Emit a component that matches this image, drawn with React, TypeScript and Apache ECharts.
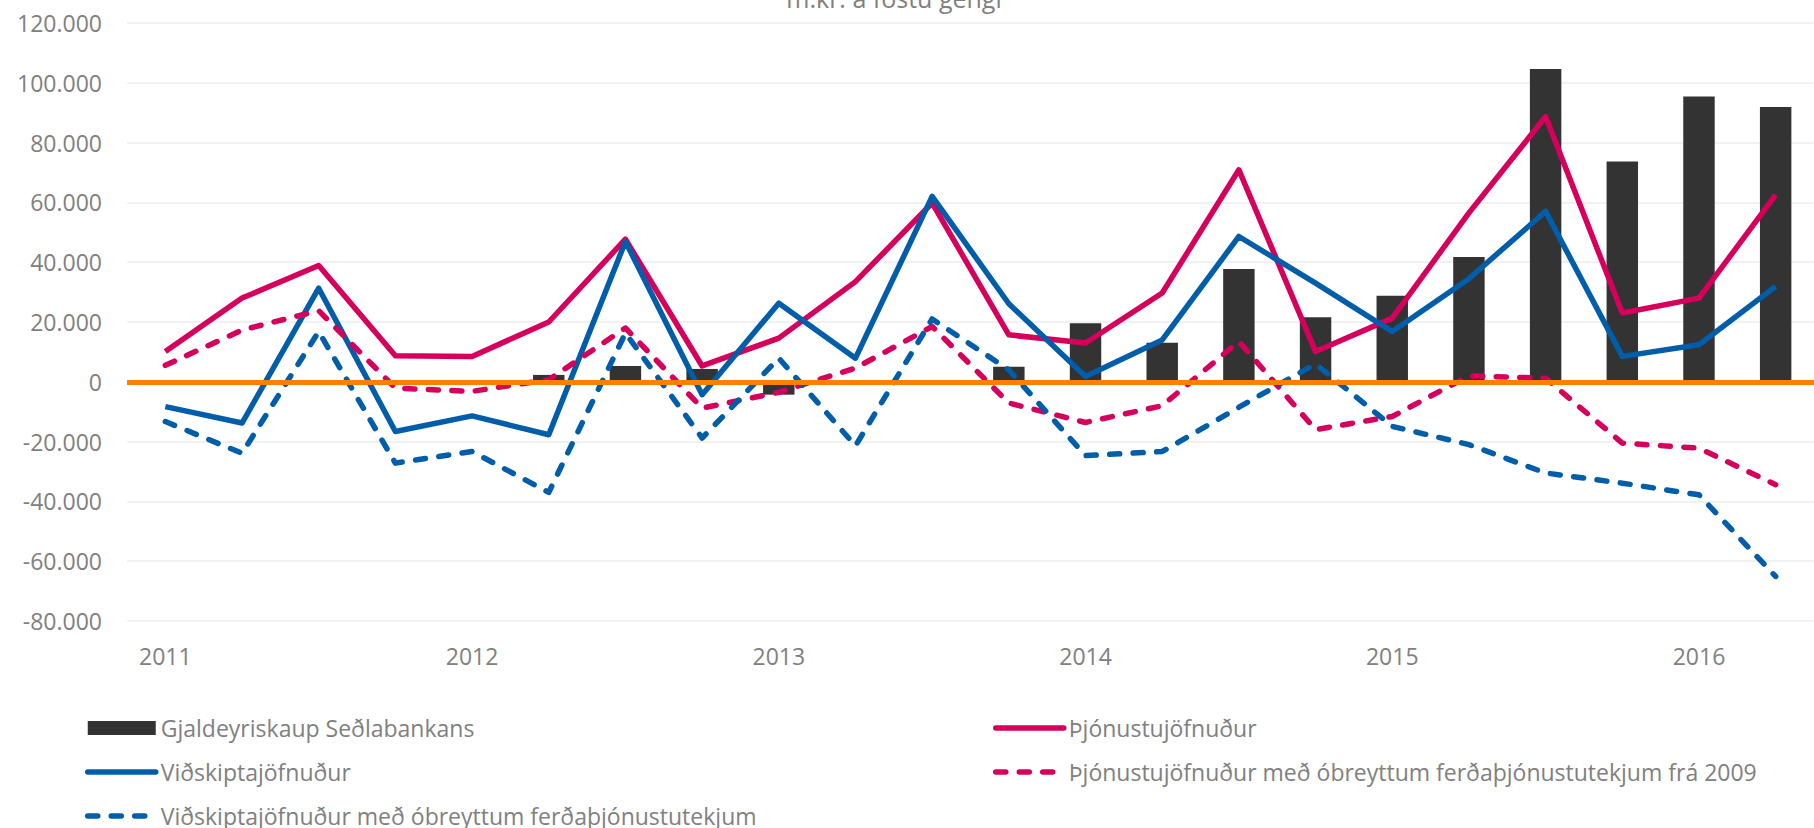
import React, { useEffect, useRef } from "react";
import * as echarts from "echarts";

const categories = [
  "2011Q1", "2011Q2", "2011Q3", "2011Q4",
  "2012Q1", "2012Q2", "2012Q3", "2012Q4",
  "2013Q1", "2013Q2", "2013Q3", "2013Q4",
  "2014Q1", "2014Q2", "2014Q3", "2014Q4",
  "2015Q1", "2015Q2", "2015Q3", "2015Q4",
  "2016Q1", "2016Q2",
];

const gjaldeyriskaup = [0, 0, 0, 0, 0, 2300, 5300, 4300, -4300, 0, 500, 5000, 19600, 13100, 37700, 21600, 28800, 41700, 104600, 73700, 95400, 91900];
const thjonustujofnudur = [10100, 28000, 38900, 8700, 8500, 20000, 47700, 5300, 14600, 33500, 59800, 15700, 13000, 29700, 70900, 10100, 21300, 56500, 88700, 23000, 28000, 62500];
const vidskiptajofnudur = [-8300, -13800, 31300, -16600, -11400, -17700, 46900, -4300, 26300, 7900, 62000, 26100, 1800, 14000, 48600, 33000, 16800, 34500, 57000, 8500, 12400, 31900];
const thjonustuObreytt = [5500, 17300, 23800, -2100, -3200, 700, 18000, -8800, -3500, 4600, 18500, -7100, -13600, -8000, 13500, -16000, -11600, 2000, 1200, -20500, -22200, -34400];
const vidskiptaObreytt = [-13300, -23900, 16800, -27200, -23300, -37000, 16300, -18800, 7900, -21400, 21000, 4000, -24700, -23300, -8500, 6000, -14900, -21000, -30500, -33900, -37800, -65100];

const names = {
  bar: "Gjaldeyriskaup Seðlabankans",
  pink: "Þjónustujöfnuður",
  blue: "Viðskiptajöfnuður",
  pinkD: "Þjónustujöfnuður með óbreyttum ferðaþjónustutekjum frá 2009",
  blueD: "Viðskiptajöfnuður með óbreyttum ferðaþjónustutekjum",
};

const GRAY = "#808080";
const PINK = "#D6005C";
const BLUE = "#005DAA";
const FONT = "Open Sans";

function fmt(v: number): string {
  if (v === 0) return "0";
  const neg = v < 0;
  const a = Math.abs(v);
  const s = String(a).replace(/\B(?=(\d{3})+(?!\d))/g, ".");
  return (neg ? "-" : "") + s;
}

export default function App() {
  const ref = useRef<HTMLDivElement>(null);
  useEffect(() => {
    if (!ref.current) return;
    const chart = echarts.init(ref.current, null, { renderer: "svg" });
    const lineBase = (name: string, data: number[], color: string, dashed: boolean) => ({
      name,
      type: "line",
      data,
      symbol: "none",
      smooth: false,
      lineStyle: {
        color,
        width: 5.5,
        type: dashed ? [10, 13.5] : "solid",
        cap: dashed ? "round" : "butt",
        join: "round",
      },
      itemStyle: { color },
    });
    const hidden = { opacity: 0 };
    const legendCommon = {
      orient: "vertical",
      top: 716,
      padding: 0,
      itemWidth: 68,
      itemHeight: 14,
      itemGap: 20,
      lineStyle: { width: 5.5, cap: "round" },
      textStyle: { color: GRAY, fontSize: 23, fontFamily: FONT, lineHeight: 24 },
    };
    chart.setOption({
      animation: false,
      textStyle: { fontFamily: FONT },
      grid: { left: 127, top: 23, width: 1700, height: 598, containLabel: false },
      xAxis: {
        type: "category",
        data: categories,
        boundaryGap: true,
        axisLine: { show: false },
        axisTick: { show: false },
        splitLine: { show: false },
        axisLabel: {
          interval: 3,
          formatter: (v: string) => v.slice(0, 4),
          color: GRAY,
          fontSize: 23,
          fontFamily: FONT,
          margin: 23,
        },
      },
      yAxis: {
        type: "value",
        min: -80000,
        max: 120000,
        interval: 20000,
        axisLine: { show: false },
        axisTick: { show: false },
        splitLine: { lineStyle: { color: "#EDEDED", width: 1.5 } },
        axisLabel: { formatter: fmt, color: GRAY, fontSize: 23, fontFamily: FONT, margin: 25 },
      },
      legend: [
        {
          ...legendCommon,
          left: 85,
          data: [
            { name: names.bar, icon: "rect" },
            { name: names.blue, itemStyle: hidden },
            { name: names.blueD, itemStyle: hidden },
          ],
        },
        {
          ...legendCommon,
          left: 993,
          data: [
            { name: names.pink, itemStyle: hidden },
            { name: names.pinkD, itemStyle: hidden },
          ],
        },
      ],
      graphic: [
        {
          type: "text",
          x: 894,
          y: -2,
          style: {
            text: "m.kr. á föstu gengi",
            fill: GRAY,
            font: `25px "${FONT}"`,
            align: "center",
            verticalAlign: "middle",
          },
        },
      ],
      series: [
        {
          name: names.bar,
          type: "bar",
          data: gjaldeyriskaup,
          barWidth: "41%",
          itemStyle: { color: "#333333" },
          markLine: {
            silent: true,
            symbol: ["none", "none"],
            label: { show: false },
            lineStyle: { color: "#FF8000", width: 5, type: "solid" },
            data: [{ yAxis: 0 }],
          },
        },
        lineBase(names.pink, thjonustujofnudur, PINK, false),
        lineBase(names.blue, vidskiptajofnudur, BLUE, false),
        lineBase(names.pinkD, thjonustuObreytt, PINK, true),
        lineBase(names.blueD, vidskiptaObreytt, BLUE, true),
      ],
    });
    return () => chart.dispose();
  }, []);
  return (
    <div
      ref={ref}
      style={{ position: "fixed", left: 0, top: 0, width: 1814, height: 828, background: "#fff" }}
    />
  );
}
